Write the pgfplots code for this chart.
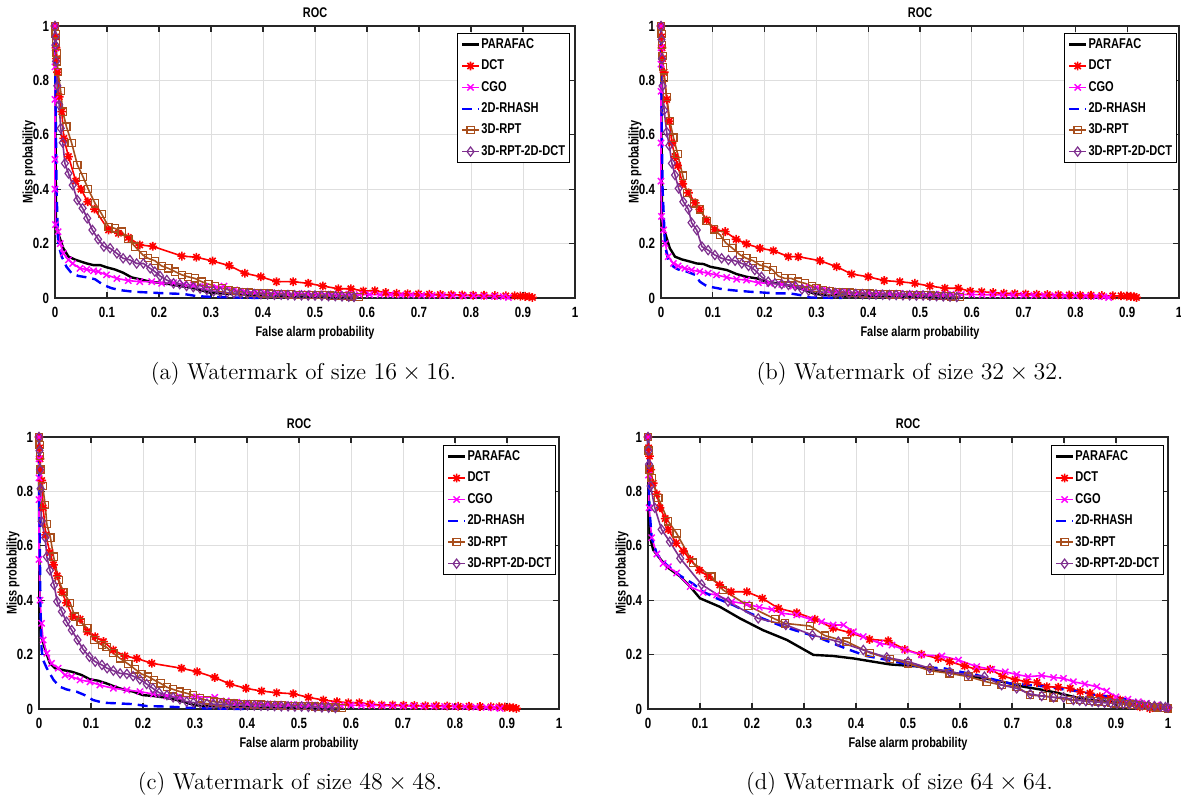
\documentclass[border=0pt]{standalone}
\usepackage{fontspec}
\usepackage{pgfplots}
\pgfplotsset{compat=1.18}

% condensed bold sans for the axis texts
\newfontfamily\mlfont[FakeStretch=0.78]{Liberation Sans}
\newcommand{\tickfont}{\mlfont\bfseries\fontsize{7.4}{8}\selectfont}
\newcommand{\labfont}{\mlfont\bfseries\fontsize{7}{8}\selectfont}
\newcommand{\legfont}{\mlfont\bfseries\fontsize{7.1}{8}\selectfont}

\definecolor{rptbrown}{RGB}{168,78,28}
\definecolor{rptpurple}{RGB}{126,47,142}
\definecolor{cgomag}{RGB}{255,0,255}
\definecolor{dctred}{RGB}{255,0,0}
\definecolor{rhblue}{RGB}{0,0,255}

% eight-armed asterisk
\pgfdeclareplotmark{ast8}{%
  \pgfpathmoveto{\pgfqpoint{-\pgfplotmarksize}{0pt}}%
  \pgfpathlineto{\pgfqpoint{\pgfplotmarksize}{0pt}}%
  \pgfpathmoveto{\pgfqpoint{0pt}{-\pgfplotmarksize}}%
  \pgfpathlineto{\pgfqpoint{0pt}{\pgfplotmarksize}}%
  \pgfpathmoveto{\pgfqpoint{-0.707\pgfplotmarksize}{-0.707\pgfplotmarksize}}%
  \pgfpathlineto{\pgfqpoint{0.707\pgfplotmarksize}{0.707\pgfplotmarksize}}%
  \pgfpathmoveto{\pgfqpoint{-0.707\pgfplotmarksize}{0.707\pgfplotmarksize}}%
  \pgfpathlineto{\pgfqpoint{0.707\pgfplotmarksize}{-0.707\pgfplotmarksize}}%
  \pgfusepathqstroke}

\pgfplotsset{
  roc/.style={
    scale only axis, width=260pt, height=136pt,
    xmin=0, xmax=1, ymin=0, ymax=1, clip=false,
    xtick={0,0.1,0.2,0.3,0.4,0.5,0.6,0.7,0.8,0.9,1},
    xticklabels={0,0.1,0.2,0.3,0.4,0.5,0.6,0.7,0.8,0.9,1},
    ytick={0,0.2,0.4,0.6,0.8,1},
    yticklabels={0,0.2,0.4,0.6,0.8,1},
    grid=major, major grid style={draw=black!13, line width=0.5pt},
    axis line style={draw=black!85, line width=0.75pt},
    tick align=inside, major tick length=3pt,
    tick style={draw=black!85, line width=0.6pt},
    xticklabel style={font=\tickfont, yshift=-1.2pt},
    yticklabel style={font=\tickfont, xshift=0.5pt},
    title={ROC},
    title style={font=\labfont, at={(axis description cs:0.5,1.006)}, anchor=center},
    xlabel={False alarm probability},
    xlabel style={font=\labfont, at={(axis description cs:0.5,-0.128)}, anchor=center},
    ylabel={Miss probability},
    ylabel style={font=\labfont, at={(axis description cs:-0.05,0.5)}, anchor=center},
    legend cell align=left,
    legend style={font=\legfont, draw=black, line width=0.5pt, fill=white,
      inner xsep=1.5pt, inner ysep=1.6pt, row sep=2.9pt,
      nodes={inner sep=0.6pt, text height=5.2pt, text depth=1.4pt},
      /tikz/every even column/.append style={column sep=0pt}},
    legend image code/.code={%
      \draw[mark repeat=2,mark phase=2,##1] plot coordinates {(0pt,0pt) (4.25pt,0pt) (8.5pt,0pt)};},
  },
  sParafac/.style={black, line width=1.2pt, no markers},
  sDct/.style={dctred, line width=0.8pt, mark=ast8, mark size=2.2pt, mark options={line width=0.8pt}},
  sCgo/.style={cgomag, line width=0.8pt, mark=x, mark size=2.2pt, mark options={line width=0.7pt}},
  sRhash/.style={rhblue, line width=1.2pt, dash pattern=on 5pt off 3pt, no markers},
  sRpt/.style={rptbrown, line width=0.8pt, mark=square, mark size=1.8pt, mark options={line width=0.6pt}},
  sRptDct/.style={rptpurple, line width=0.8pt, mark=diamond, mark size=2.3pt, mark options={line width=0.6pt}},
}

\begin{document}
\begin{tikzpicture}
\path[use as bounding box] (0,0) rectangle (590.5pt,-399.5pt);

% ---------------- (a) 16x16 ----------------
\begin{axis}[roc, at={(27.5pt,-149pt)}, anchor=south west,
  legend style={at={(0.99,0.974)}, anchor=north east}]
\addplot[sParafac] coordinates {(0,1) (0.001,0.6) (0.002,0.275) (0.006,0.238) (0.016,0.183) (0.026,0.152) (0.04,0.14) (0.061,0.127) (0.074,0.121) (0.087,0.121) (0.099,0.113) (0.115,0.105) (0.131,0.093) (0.147,0.076) (0.163,0.069) (0.183,0.06) (0.202,0.056) (0.221,0.051) (0.24,0.044) (0.26,0.039) (0.279,0.029) (0.298,0.02) (0.317,0.017) (0.343,0.015) (0.4,0.01) (0.5,0.006) (0.58,0.004)};
\addlegendentry{PARAFAC}
\addplot[sDct] coordinates {(0,1) (0.001,0.96) (0.002,0.92) (0.003,0.88) (0.005,0.83) (0.008,0.74) (0.013,0.685) (0.017,0.587) (0.026,0.52) (0.04,0.43) (0.05,0.40) (0.063,0.354) (0.076,0.327) (0.103,0.25) (0.122,0.238) (0.141,0.223) (0.163,0.195) (0.188,0.19) (0.244,0.154) (0.272,0.15) (0.303,0.136) (0.335,0.119) (0.365,0.091) (0.396,0.078) (0.426,0.06) (0.458,0.06) (0.487,0.054) (0.515,0.044) (0.545,0.034) (0.569,0.034) (0.593,0.026) (0.615,0.027) (0.636,0.02) (0.657,0.017) (0.678,0.016) (0.699,0.015) (0.72,0.014) (0.741,0.013) (0.762,0.012) (0.783,0.011) (0.804,0.01) (0.825,0.01) (0.846,0.009) (0.867,0.008) (0.884,0.008) (0.895,0.007) (0.904,0.006) (0.912,0.005) (0.918,0.002)};
\addlegendentry{DCT}
\addplot[sCgo] coordinates {(0,1) (0,0.92) (0,0.85) (0,0.73) (0,0.51) (0,0.40) (0.001,0.27) (0.006,0.244) (0.01,0.2) (0.016,0.164) (0.026,0.14) (0.034,0.127) (0.048,0.109) (0.061,0.105) (0.074,0.1) (0.083,0.097) (0.099,0.085) (0.119,0.072) (0.141,0.064) (0.163,0.06) (0.186,0.06) (0.205,0.054) (0.228,0.056) (0.247,0.051) (0.266,0.048) (0.288,0.042) (0.311,0.039) (0.325,0.044) (0.345,0.03) (0.365,0.025) (0.385,0.021) (0.405,0.019) (0.425,0.018) (0.445,0.017) (0.465,0.016) (0.485,0.016) (0.505,0.015) (0.525,0.015) (0.545,0.014) (0.565,0.014) (0.585,0.013) (0.605,0.013) (0.625,0.012) (0.645,0.012) (0.665,0.011) (0.685,0.011) (0.705,0.01) (0.725,0.01) (0.745,0.009) (0.765,0.009) (0.785,0.008) (0.805,0.008) (0.825,0.007) (0.845,0.006) (0.862,0.005) (0.872,0.002)};
\addlegendentry{CGO}
\addplot[sRhash] coordinates {(0,1) (0.001,0.75) (0.003,0.4) (0.006,0.2) (0.013,0.152) (0.022,0.115) (0.032,0.091) (0.045,0.081) (0.061,0.076) (0.077,0.069) (0.093,0.048) (0.109,0.036) (0.125,0.029) (0.151,0.023) (0.183,0.02) (0.215,0.017) (0.247,0.015) (0.272,0.007) (0.292,0.005) (0.343,0.002) (0.4,0)};
\addlegendentry{2D-RHASH}
\addplot[sRpt] coordinates {(0,1) (0.001,0.97) (0.002,0.94) (0.003,0.9) (0.004,0.87) (0.006,0.83) (0.011,0.76) (0.015,0.685) (0.022,0.63) (0.032,0.57) (0.043,0.49) (0.054,0.445) (0.064,0.40) (0.077,0.348) (0.09,0.308) (0.103,0.262) (0.115,0.256) (0.128,0.244) (0.141,0.216) (0.154,0.189) (0.169,0.158) (0.179,0.146) (0.192,0.137) (0.205,0.118) (0.218,0.109) (0.231,0.097) (0.244,0.085) (0.256,0.078) (0.269,0.072) (0.282,0.06) (0.295,0.051) (0.308,0.044) (0.321,0.036) (0.334,0.03) (0.347,0.025) (0.36,0.022) (0.373,0.02) (0.386,0.018) (0.399,0.017) (0.412,0.016) (0.425,0.015) (0.438,0.014) (0.451,0.013) (0.464,0.012) (0.477,0.012) (0.49,0.011) (0.503,0.01) (0.516,0.01) (0.529,0.009) (0.542,0.008) (0.555,0.007) (0.568,0.006) (0.584,0.004)};
\addlegendentry{3D-RPT}
\addplot[sRptDct] coordinates {(0,1) (0.001,0.96) (0.001,0.93) (0.002,0.87) (0.0045,0.78) (0.008,0.71) (0.011,0.624) (0.015,0.571) (0.019,0.495) (0.026,0.458) (0.034,0.415) (0.043,0.36) (0.053,0.33) (0.062,0.293) (0.072,0.25) (0.083,0.216) (0.094,0.189) (0.106,0.183) (0.119,0.164) (0.131,0.146) (0.144,0.14) (0.157,0.127) (0.17,0.127) (0.183,0.109) (0.192,0.097) (0.202,0.081) (0.215,0.066) (0.228,0.054) (0.24,0.051) (0.253,0.044) (0.266,0.04) (0.279,0.035) (0.292,0.03) (0.305,0.025) (0.318,0.022) (0.331,0.02) (0.344,0.018) (0.357,0.017) (0.37,0.016) (0.383,0.015) (0.396,0.014) (0.409,0.013) (0.422,0.012) (0.435,0.012) (0.448,0.011) (0.461,0.01) (0.474,0.01) (0.487,0.009) (0.5,0.009) (0.513,0.008) (0.526,0.007) (0.539,0.007) (0.552,0.006) (0.565,0.005) (0.575,0.004)};
\addlegendentry{3D-RPT-2D-DCT}
\end{axis}

% ---------------- (b) 32x32 ----------------
\begin{axis}[roc, at={(330.5pt,-149pt)}, anchor=south west, width=259pt,
  legend style={at={(0.996,0.974)}, anchor=north east}]
\addplot[sParafac] coordinates {(0,1) (0.001,0.6) (0.002,0.27) (0.008,0.238) (0.017,0.183) (0.027,0.152) (0.04,0.142) (0.056,0.134) (0.069,0.127) (0.082,0.125) (0.095,0.115) (0.111,0.109) (0.127,0.103) (0.146,0.088) (0.165,0.078) (0.185,0.072) (0.204,0.06) (0.223,0.054) (0.242,0.048) (0.262,0.039) (0.281,0.027) (0.294,0.017) (0.313,0.011) (0.4,0.006) (0.5,0.004) (0.57,0.003)};
\addlegendentry{PARAFAC}
\addplot[sDct] coordinates {(0,1) (0.001,0.96) (0.002,0.92) (0.003,0.88) (0.006,0.83) (0.011,0.73) (0.016,0.65) (0.021,0.57) (0.027,0.52) (0.032,0.487) (0.042,0.42) (0.053,0.387) (0.066,0.35) (0.075,0.326) (0.088,0.287) (0.104,0.252) (0.124,0.244) (0.145,0.216) (0.165,0.199) (0.191,0.183) (0.217,0.174) (0.246,0.152) (0.265,0.152) (0.307,0.137) (0.339,0.115) (0.368,0.088) (0.4,0.078) (0.431,0.064) (0.461,0.06) (0.49,0.054) (0.519,0.044) (0.548,0.036) (0.574,0.036) (0.597,0.025) (0.619,0.023) (0.641,0.02) (0.662,0.017) (0.683,0.016) (0.704,0.015) (0.725,0.014) (0.746,0.013) (0.767,0.012) (0.788,0.011) (0.809,0.01) (0.83,0.01) (0.851,0.009) (0.872,0.008) (0.888,0.008) (0.899,0.007) (0.907,0.006) (0.913,0.005) (0.918,0.002)};
\addlegendentry{DCT}
\addplot[sCgo] coordinates {(0,1) (0,0.92) (0,0.86) (0,0.76) (0,0.57) (0,0.43) (0.001,0.3) (0.005,0.25) (0.008,0.2) (0.014,0.152) (0.024,0.127) (0.033,0.118) (0.046,0.109) (0.059,0.103) (0.075,0.097) (0.091,0.091) (0.107,0.085) (0.127,0.076) (0.146,0.069) (0.165,0.066) (0.188,0.056) (0.21,0.054) (0.233,0.05) (0.255,0.044) (0.278,0.039) (0.3,0.039) (0.32,0.03) (0.34,0.025) (0.36,0.022) (0.38,0.02) (0.4,0.019) (0.42,0.018) (0.44,0.017) (0.46,0.016) (0.48,0.016) (0.5,0.015) (0.52,0.015) (0.54,0.014) (0.56,0.014) (0.58,0.013) (0.6,0.013) (0.62,0.012) (0.64,0.012) (0.66,0.011) (0.68,0.011) (0.7,0.01) (0.72,0.01) (0.74,0.009) (0.76,0.009) (0.78,0.008) (0.8,0.008) (0.82,0.007) (0.84,0.006) (0.855,0.005) (0.864,0.002)};
\addlegendentry{CGO}
\addplot[sRhash] coordinates {(0,1) (0.001,0.7) (0.003,0.4) (0.008,0.189) (0.014,0.14) (0.024,0.115) (0.033,0.105) (0.05,0.097) (0.066,0.085) (0.075,0.06) (0.088,0.044) (0.101,0.039) (0.12,0.032) (0.146,0.027) (0.172,0.023) (0.198,0.02) (0.223,0.017) (0.249,0.017) (0.268,0.011) (0.288,0.002) (0.35,0)};
\addlegendentry{2D-RHASH}
\addplot[sRpt] coordinates {(0,1) (0.001,0.97) (0.002,0.93) (0.003,0.89) (0.004,0.85) (0.006,0.81) (0.011,0.74) (0.017,0.65) (0.024,0.59) (0.032,0.53) (0.042,0.45) (0.05,0.387) (0.064,0.348) (0.075,0.326) (0.088,0.284) (0.102,0.252) (0.114,0.232) (0.125,0.203) (0.138,0.183) (0.153,0.158) (0.165,0.146) (0.178,0.137) (0.191,0.121) (0.204,0.115) (0.216,0.103) (0.226,0.081) (0.239,0.072) (0.252,0.072) (0.265,0.06) (0.278,0.054) (0.291,0.044) (0.3,0.036) (0.313,0.03) (0.326,0.026) (0.339,0.023) (0.352,0.021) (0.365,0.02) (0.378,0.018) (0.391,0.017) (0.404,0.016) (0.417,0.015) (0.43,0.014) (0.443,0.013) (0.456,0.013) (0.469,0.012) (0.482,0.011) (0.495,0.011) (0.508,0.01) (0.521,0.009) (0.534,0.008) (0.547,0.007) (0.56,0.006) (0.577,0.004)};
\addlegendentry{3D-RPT}
\addplot[sRptDct] coordinates {(0,1) (0.001,0.95) (0.002,0.88) (0.003,0.78) (0.006,0.69) (0.011,0.61) (0.016,0.56) (0.021,0.495) (0.027,0.452) (0.034,0.403) (0.043,0.354) (0.053,0.326) (0.059,0.277) (0.069,0.25) (0.079,0.189) (0.091,0.176) (0.104,0.158) (0.117,0.146) (0.13,0.14) (0.143,0.137) (0.156,0.127) (0.169,0.118) (0.181,0.103) (0.194,0.078) (0.207,0.06) (0.22,0.054) (0.233,0.051) (0.246,0.048) (0.259,0.044) (0.272,0.032) (0.285,0.027) (0.298,0.024) (0.311,0.022) (0.324,0.02) (0.337,0.018) (0.35,0.017) (0.363,0.016) (0.376,0.015) (0.389,0.014) (0.402,0.013) (0.415,0.013) (0.428,0.012) (0.441,0.011) (0.454,0.011) (0.467,0.01) (0.48,0.01) (0.493,0.009) (0.506,0.009) (0.519,0.008) (0.532,0.007) (0.545,0.006) (0.558,0.005) (0.571,0.004)};
\addlegendentry{3D-RPT-2D-DCT}
\end{axis}

% ---------------- (c) 48x48 ----------------
\begin{axis}[roc, at={(19.5pt,-354.5pt)}, anchor=south west,
  legend style={at={(0.994,0.97)}, anchor=north east}]
\addplot[sParafac] coordinates {(0,1) (0.0005,0.6) (0.001,0.315) (0.005,0.266) (0.012,0.217) (0.021,0.168) (0.031,0.15) (0.047,0.143) (0.063,0.137) (0.082,0.125) (0.098,0.109) (0.114,0.104) (0.13,0.094) (0.146,0.082) (0.162,0.072) (0.181,0.064) (0.2,0.051) (0.22,0.048) (0.239,0.043) (0.258,0.036) (0.278,0.027) (0.297,0.015) (0.316,0.011) (0.4,0.006) (0.5,0.004) (0.56,0.003)};
\addlegendentry{PARAFAC}
\addplot[sDct] coordinates {(0,1) (0.001,0.96) (0.002,0.92) (0.003,0.88) (0.005,0.84) (0.008,0.74) (0.013,0.64) (0.021,0.575) (0.028,0.53) (0.035,0.49) (0.044,0.43) (0.053,0.39) (0.065,0.34) (0.079,0.33) (0.093,0.284) (0.108,0.266) (0.124,0.248) (0.143,0.217) (0.165,0.195) (0.188,0.186) (0.217,0.168) (0.274,0.15) (0.304,0.137) (0.338,0.116) (0.367,0.092) (0.398,0.076) (0.428,0.066) (0.457,0.06) (0.489,0.056) (0.518,0.043) (0.547,0.033) (0.573,0.027) (0.595,0.023) (0.616,0.023) (0.637,0.018) (0.659,0.015) (0.68,0.015) (0.701,0.014) (0.722,0.013) (0.743,0.012) (0.764,0.012) (0.785,0.011) (0.806,0.01) (0.827,0.01) (0.848,0.009) (0.869,0.008) (0.885,0.008) (0.896,0.007) (0.905,0.006) (0.912,0.005) (0.918,0.002)};
\addlegendentry{DCT}
\addplot[sCgo] coordinates {(0,1) (0,0.92) (0,0.85) (0,0.77) (0,0.55) (0.002,0.40) (0.005,0.315) (0.008,0.254) (0.015,0.205) (0.024,0.168) (0.037,0.15) (0.05,0.125) (0.063,0.119) (0.079,0.107) (0.098,0.1) (0.117,0.088) (0.143,0.076) (0.169,0.07) (0.194,0.064) (0.22,0.055) (0.246,0.048) (0.271,0.045) (0.303,0.045) (0.338,0.043) (0.36,0.03) (0.38,0.025) (0.4,0.022) (0.42,0.02) (0.44,0.019) (0.46,0.018) (0.48,0.017) (0.5,0.016) (0.52,0.016) (0.54,0.015) (0.56,0.015) (0.58,0.014) (0.6,0.014) (0.62,0.013) (0.64,0.013) (0.66,0.012) (0.68,0.012) (0.7,0.011) (0.72,0.011) (0.74,0.01) (0.76,0.01) (0.78,0.009) (0.8,0.009) (0.82,0.008) (0.84,0.007) (0.86,0.006) (0.875,0.005) (0.887,0.002)};
\addlegendentry{CGO}
\addplot[sRhash] coordinates {(0,1) (0.001,0.7) (0.003,0.35) (0.005,0.217) (0.008,0.18) (0.015,0.15) (0.028,0.107) (0.04,0.082) (0.053,0.072) (0.072,0.064) (0.088,0.051) (0.104,0.033) (0.124,0.023) (0.149,0.021) (0.181,0.018) (0.207,0.011) (0.246,0.009) (0.284,0.005) (0.322,0.002) (0.4,0)};
\addlegendentry{2D-RHASH}
\addplot[sRpt] coordinates {(0,1) (0.001,0.97) (0.002,0.93) (0.003,0.88) (0.007,0.82) (0.012,0.75) (0.015,0.68) (0.022,0.63) (0.028,0.56) (0.038,0.474) (0.047,0.43) (0.06,0.39) (0.069,0.34) (0.08,0.32) (0.093,0.297) (0.106,0.254) (0.121,0.235) (0.13,0.227) (0.143,0.205) (0.156,0.186) (0.172,0.165) (0.185,0.146) (0.197,0.129) (0.21,0.119) (0.221,0.107) (0.234,0.094) (0.246,0.08) (0.258,0.072) (0.271,0.064) (0.284,0.058) (0.296,0.051) (0.31,0.039) (0.323,0.032) (0.336,0.027) (0.349,0.024) (0.362,0.022) (0.375,0.02) (0.388,0.019) (0.401,0.018) (0.414,0.017) (0.427,0.016) (0.44,0.015) (0.453,0.014) (0.466,0.013) (0.479,0.012) (0.492,0.012) (0.505,0.011) (0.518,0.01) (0.531,0.009) (0.544,0.008) (0.557,0.007) (0.57,0.006) (0.582,0.004)};
\addlegendentry{3D-RPT}
\addplot[sRptDct] coordinates {(0,1) (0.001,0.95) (0.002,0.88) (0.003,0.81) (0.005,0.69) (0.012,0.63) (0.015,0.56) (0.021,0.51) (0.029,0.456) (0.035,0.395) (0.044,0.358) (0.053,0.321) (0.063,0.29) (0.074,0.254) (0.085,0.219) (0.097,0.192) (0.108,0.174) (0.121,0.162) (0.131,0.15) (0.143,0.141) (0.156,0.131) (0.169,0.129) (0.181,0.121) (0.194,0.109) (0.207,0.092) (0.219,0.076) (0.231,0.06) (0.246,0.051) (0.258,0.043) (0.271,0.036) (0.284,0.027) (0.297,0.024) (0.31,0.022) (0.323,0.02) (0.336,0.018) (0.349,0.017) (0.362,0.016) (0.375,0.015) (0.388,0.014) (0.401,0.014) (0.414,0.013) (0.427,0.012) (0.44,0.012) (0.453,0.011) (0.466,0.01) (0.479,0.01) (0.492,0.009) (0.505,0.009) (0.518,0.008) (0.531,0.007) (0.544,0.006) (0.557,0.005) (0.57,0.004)};
\addlegendentry{3D-RPT-2D-DCT}
\end{axis}

% ---------------- (d) 64x64 ----------------
\begin{axis}[roc, at={(324pt,-354.5pt)}, anchor=south west,
  legend style={at={(0.992,0.97)}, anchor=north east}]
\addplot[sParafac] coordinates {(0,1) (0.001,0.85) (0.002,0.7) (0.004,0.63) (0.01,0.585) (0.02,0.56) (0.036,0.523) (0.062,0.487) (0.081,0.45) (0.1,0.407) (0.138,0.376) (0.177,0.333) (0.221,0.29) (0.267,0.254) (0.318,0.199) (0.356,0.195) (0.395,0.186) (0.433,0.174) (0.465,0.164) (0.523,0.156) (0.558,0.143) (0.594,0.131) (0.626,0.119) (0.658,0.109) (0.69,0.097) (0.722,0.082) (0.754,0.072) (0.786,0.06) (0.818,0.045) (0.85,0.033) (0.882,0.027) (0.914,0.021) (0.946,0.015) (0.978,0.009) (1,0.002)};
\addlegendentry{PARAFAC}
\addplot[sDct] coordinates {(0,1) (0.001,0.96) (0.003,0.93) (0.005,0.88) (0.01,0.83) (0.017,0.79) (0.023,0.74) (0.033,0.7) (0.039,0.66) (0.054,0.61) (0.068,0.58) (0.081,0.55) (0.099,0.51) (0.116,0.487) (0.138,0.456) (0.16,0.431) (0.19,0.431) (0.22,0.407) (0.251,0.37) (0.286,0.354) (0.321,0.33) (0.356,0.297) (0.39,0.28) (0.426,0.256) (0.462,0.251) (0.494,0.219) (0.526,0.201) (0.558,0.186) (0.58,0.174) (0.609,0.158) (0.632,0.146) (0.658,0.146) (0.682,0.121) (0.706,0.109) (0.728,0.1) (0.748,0.097) (0.767,0.082) (0.789,0.08) (0.812,0.076) (0.831,0.064) (0.85,0.058) (0.869,0.045) (0.889,0.039) (0.908,0.033) (0.927,0.021) (0.946,0.008) (0.965,0.002) (0.98,0.006) (1,0.005)};
\addlegendentry{DCT}
\addplot[sCgo] coordinates {(0,1) (0.001,0.86) (0.002,0.74) (0.007,0.63) (0.017,0.57) (0.029,0.535) (0.039,0.523) (0.055,0.5) (0.081,0.45) (0.106,0.428) (0.132,0.419) (0.161,0.395) (0.19,0.386) (0.214,0.374) (0.238,0.366) (0.257,0.352) (0.286,0.346) (0.312,0.33) (0.334,0.321) (0.356,0.309) (0.376,0.309) (0.395,0.284) (0.414,0.266) (0.446,0.241) (0.469,0.235) (0.494,0.217) (0.526,0.199) (0.565,0.195) (0.597,0.18) (0.632,0.156) (0.661,0.146) (0.687,0.137) (0.709,0.127) (0.731,0.119) (0.757,0.123) (0.78,0.116) (0.799,0.113) (0.818,0.1) (0.84,0.092) (0.863,0.082) (0.882,0.066) (0.9,0.045) (0.923,0.036) (0.943,0.027) (0.959,0.021) (0.978,0.015) (0.997,0.006)};
\addlegendentry{CGO}
\addplot[sRhash] coordinates {(0,1) (0.001,0.85) (0.003,0.73) (0.007,0.63) (0.017,0.57) (0.036,0.53) (0.062,0.49) (0.087,0.46) (0.106,0.431) (0.132,0.407) (0.164,0.382) (0.196,0.352) (0.228,0.327) (0.26,0.303) (0.292,0.284) (0.324,0.266) (0.356,0.241) (0.388,0.217) (0.42,0.195) (0.453,0.183) (0.497,0.165) (0.529,0.153) (0.568,0.15) (0.6,0.137) (0.632,0.125) (0.664,0.109) (0.696,0.094) (0.735,0.088) (0.767,0.082) (0.799,0.072) (0.831,0.064) (0.863,0.051) (0.895,0.045) (0.927,0.033) (0.959,0.018) (0.997,0.006)};
\addlegendentry{2D-RHASH}
\addplot[sRpt] coordinates {(0,1) (0.001,0.95) (0.003,0.88) (0.007,0.85) (0.02,0.775) (0.039,0.69) (0.055,0.646) (0.086,0.538) (0.122,0.487) (0.144,0.438) (0.193,0.379) (0.245,0.33) (0.263,0.315) (0.312,0.305) (0.34,0.27) (0.382,0.248) (0.426,0.207) (0.465,0.184) (0.5,0.168) (0.542,0.141) (0.58,0.131) (0.616,0.119) (0.651,0.1) (0.68,0.088) (0.709,0.082) (0.735,0.051) (0.76,0.048) (0.78,0.043) (0.812,0.033) (0.831,0.033) (0.85,0.031) (0.865,0.028) (0.88,0.025) (0.89,0.023) (0.9,0.021) (0.91,0.02) (0.92,0.018) (0.93,0.016) (0.94,0.014) (0.95,0.012) (0.96,0.01) (0.97,0.008) (0.98,0.006) (0.99,0.004) (1,0.002)};
\addlegendentry{3D-RPT}
\addplot[sRptDct] coordinates {(0,1) (0.001,0.95) (0.002,0.9) (0.005,0.82) (0.013,0.74) (0.026,0.66) (0.042,0.615) (0.062,0.554) (0.103,0.458) (0.154,0.395) (0.212,0.333) (0.265,0.309) (0.316,0.272) (0.366,0.248) (0.414,0.217) (0.459,0.19) (0.5,0.174) (0.542,0.15) (0.58,0.137) (0.616,0.125) (0.647,0.119) (0.68,0.088) (0.709,0.076) (0.735,0.055) (0.757,0.048) (0.78,0.043) (0.799,0.043) (0.818,0.033) (0.83,0.031) (0.842,0.029) (0.854,0.027) (0.866,0.025) (0.878,0.023) (0.89,0.022) (0.902,0.02) (0.914,0.019) (0.926,0.018) (0.938,0.017) (0.95,0.015) (0.962,0.013) (0.974,0.011) (0.986,0.009) (0.995,0.007) (1,0.005)};
\addlegendentry{3D-RPT-2D-DCT}
\end{axis}

% sub-captions
\begin{scope}[every node/.style={font=\fontsize{11.5}{14}\selectfont, inner sep=0pt, anchor=base}]
\node at (151.75pt,-189.5pt) {(a)\ Watermark of size $16\times16$.};
\node at (455pt,-189.5pt) {(b)\ Watermark of size $32\times32$.};
\node at (145pt,-394.5pt) {(c)\ Watermark of size $48\times48$.};
\node at (449.75pt,-394.5pt) {(d)\ Watermark of size $64\times64$.};
\end{scope}
\end{tikzpicture}
\end{document}
